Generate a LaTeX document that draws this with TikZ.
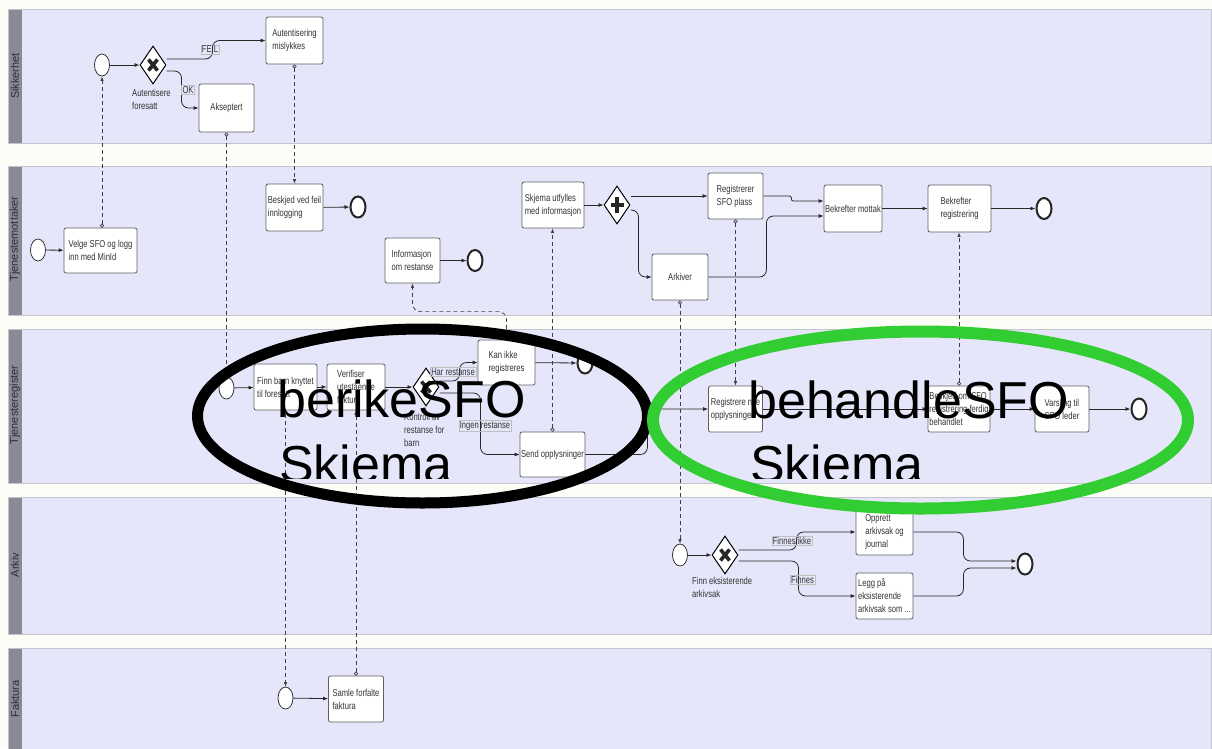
\documentclass[tikz,border=0pt]{standalone}
\usepackage{fontspec}
\setmainfont{Liberation Sans}
\newfontfamily\narrowfont[FakeStretch=0.76]{Liberation Sans}
\usetikzlibrary{shapes.geometric,arrows.meta}

\definecolor{pageBg}{RGB}{253,253,248}
\definecolor{laneFill}{RGB}{230,230,250}
\definecolor{laneLine}{RGB}{196,196,206}
\definecolor{laneBar}{RGB}{138,138,150}
\definecolor{laneText}{RGB}{45,45,55}
\definecolor{flowCol}{RGB}{40,40,40}
\definecolor{boxLine}{RGB}{95,95,100}
\definecolor{ovalGreen}{RGB}{50,205,50}

\tikzset{
  lane/.style={draw=laneLine, fill=laneFill, line width=1pt},
  lanelabel/.style={rotate=90, text=laneText, inner sep=0pt,
    font=\fontsize{11}{13}\selectfont},
  task/.style={draw=boxLine, fill=white, rounded corners=2pt, line width=0.8pt,
    align=left, text=black!80, inner sep=1pt,
    font=\narrowfont\fontsize{10}{13}\selectfont},
  gwlabel/.style={align=left, text=black!80, inner sep=0pt, anchor=north west,
    font=\narrowfont\fontsize{10}{13}\selectfont},
  elabel/.style={draw=black!25, inner sep=1pt, text=black!80,
    font=\narrowfont\fontsize{10}{12}\selectfont},
  startev/.style={ellipse, draw=black!80, fill=white, line width=0.8pt,
    minimum width=15pt, minimum height=22pt, inner sep=0pt},
  endev/.style={ellipse, draw=black!85, fill=white, line width=2pt,
    minimum width=15pt, minimum height=21pt, inner sep=0pt},
  gateway/.style={shape=diamond, draw=black, fill=white, line width=1pt,
    minimum width=26pt, minimum height=38pt, inner sep=0pt},
  xorgw/.style={gateway, path picture={
    \draw[line width=3.6pt, black!85]
      ([xshift=-4.5pt,yshift=-5.5pt]path picture bounding box.center) --
      ([xshift=4.5pt,yshift=5.5pt]path picture bounding box.center)
      ([xshift=-4.5pt,yshift=5.5pt]path picture bounding box.center) --
      ([xshift=4.5pt,yshift=-5.5pt]path picture bounding box.center);}},
  andgw/.style={gateway, path picture={
    \draw[line width=4pt, black!85]
      ([yshift=-8pt]path picture bounding box.center) --
      ([yshift=8pt]path picture bounding box.center)
      ([xshift=-6.5pt]path picture bounding box.center) --
      ([xshift=6.5pt]path picture bounding box.center);}},
  seq/.style={draw=flowCol, line width=0.8pt, rounded corners=7pt,
    -{Latex[length=5pt,width=4pt]}},
  msg/.style={draw=black!75, line width=0.7pt, dash pattern=on 4pt off 3pt,
    {Circle[open,length=4pt]}-{Latex[length=4.5pt,width=3.5pt]}},
  bigtext/.style={anchor=base west, inner sep=0pt, text=black,
    font=\fontsize{52}{60}\selectfont}
}

\begin{document}
\begin{tikzpicture}[x=1pt,y=-1pt]
\useasboundingbox (0,0) rectangle (1212,748);
\fill[pageBg] (0,0) rectangle (1212,748);

% swim lanes
\foreach \ltop/\lbot/\lname [count=\i] in
  {9/143/Sikkerhet, 166/315/Tjenestemottaker, 329/483/Tjenesteregister,
   497/634/Arkiv, 648/770/Faktura}{
  \draw[lane] (8,\ltop) rectangle (1211,\lbot);
  \fill[laneBar] (8.5,\ltop+0.5) rectangle (22,\lbot-0.5);
}
\node[lanelabel] (lane1) at (15,76) {Sikkerhet};
\node[lanelabel] (lane2) at (15,239) {Tjenestemottaker};
\node[lanelabel] (lane3) at (15,405) {Tjenesteregister};
\node[lanelabel] (lane4) at (15,565) {Arkiv};
\node[lanelabel] (lane5) at (15,699) {Faktura};

% ---- Sikkerhet
\node[startev] (s1) at (102,65) {};
\node[xorgw] (g1) at (153,65) {};
\node[gwlabel] (g1l) at (132,89) {Autentisere\\foresatt};
\node[task, minimum width=57pt, minimum height=47pt] (mislykkes) at (294.5,40.5) {Autentisering\\mislykkes};
\node[task, minimum width=55pt, minimum height=48pt] (akseptert) at (226.5,108) {Akseptert};

% ---- Tjenestemottaker
\node[startev] (s2) at (38,250) {};
\node[task, minimum width=73pt, minimum height=45pt] (velge) at (100.5,250.5) {Velge SFO og logg\\inn med MinId};
\node[task, minimum width=57pt, minimum height=47pt] (beskjed) at (294.5,207.5) {Beskjed ved feil\\innlogging};
\node[endev] (e2) at (358,207) {};
\node[task, minimum width=55pt, minimum height=45pt] (infoRest) at (412.5,260.5) {Informasjon\\om restanse};
\node[endev] (e3) at (475,260.5) {};
\node[task, minimum width=62pt, minimum height=46pt] (skjema) at (553,205) {Skjema utfylles\\med informasjon};
\node[andgw] (g2) at (617,205) {};
\node[task, minimum width=55pt, minimum height=46pt] (regSFO) at (735.5,196) {Registrerer\\SFO plass};
\node[task, minimum width=56pt, minimum height=46pt] (arkiver) at (680,277) {Arkiver};
\node[task, minimum width=58pt, minimum height=47pt] (bekMottak) at (853,208.5) {Bekrefter mottak};
\node[task, minimum width=63pt, minimum height=47pt] (bekReg) at (959.5,208.5) {Bekrefter\\registrering};
\node[endev] (e4) at (1044,208.5) {};

% ---- Tjenesteregister
\node[startev] (s3) at (226.5,388) {};
\node[task, minimum width=63pt, minimum height=46pt] (finnBarn) at (285.5,387) {Finn barn knyttet\\til foresatt};
\node[task, minimum width=58pt, minimum height=46pt] (verifiser) at (356,387) {Verifiser\\utestående\\faktura};
\node[xorgw] (g3) at (426,387) {};
\node[gwlabel] (g3l) at (404,413) {Kontroll av\\restanse for\\barn};
\node[task, minimum width=57pt, minimum height=45pt] (kanIkke) at (506.5,362.5) {Kan ikke\\registreres};
\node[endev] (e5) at (585,363) {};
\node[task, minimum width=65pt, minimum height=45pt] (sendOpp) at (552.5,454.5) {Send opplysninger};
\node[task, minimum width=54pt, minimum height=46pt] (regNye) at (735.5,409) {Registrere nye\\opplysninger};
\node[task, minimum width=62pt, minimum height=46pt] (beskjedSFO) at (959,409) {Beskjed om SFO\\registrering ferdig\\behandlet};
\node[task, minimum width=54pt, minimum height=46pt] (varsling) at (1062,409) {Varsling til\\SFO leder};
\node[endev] (e6) at (1139,409) {};

% ---- Arkiv
\node[startev] (s4) at (680,555) {};
\node[xorgw] (g4) at (725,555) {};
\node[gwlabel] (g4l) at (692,577) {Finn eksisterende\\arkivsak};
\node[task, minimum width=57pt, minimum height=46pt] (opprett) at (884.5,532) {Opprett\\arkivsak og\\journal};
\node[task, minimum width=57pt, minimum height=46pt] (legg) at (884.5,596) {Legg på\\eksisterende\\arkivsak som ...};
\node[endev] (e7) at (1025,564) {};

% ---- Faktura
\node[startev] (s5) at (285.5,698) {};
\node[task, minimum width=55pt, minimum height=46pt] (samle) at (356,699) {Samle forfalte\\faktura};

% sequence flows
\draw[seq] (s1) -- (g1);
\draw[seq] ([yshift=6pt]g1.east) -- ++(46,0) |- (mislykkes.west);
\draw[seq] ([yshift=-6pt]g1.east) -- ++(15,0) |- (akseptert.west);
\node[elabel] (feil) at (210,49.5) {FEIL};
\node[elabel] (okl) at (188,90) {OK};

\draw[seq] (s2) -- (velge);
\draw[seq] (beskjed) -- (e2);
\draw[seq] (infoRest) -- (e3);
\draw[seq] (skjema) -- (g2);
\draw[seq] ([yshift=9pt]g2.east) -- (regSFO.west);
\draw[seq] ([yshift=-5pt]g2.east) -- ++(8,0) |- (arkiver.west);
\draw[seq, rounded corners=2pt] (regSFO.east) -- ++(28,0) |- ([yshift=7.5pt]bekMottak.west);
\draw[seq] (arkiver.east) -- ++(58,0) |- ([yshift=-7.5pt]bekMottak.west);
\draw[seq] (bekMottak) -- (bekReg);
\draw[seq] (bekReg) -- (e4);

\draw[seq] (s3) -- (finnBarn);
\draw[seq] (finnBarn) -- (verifiser);
\draw[seq] (verifiser) -- (g3);
\draw[seq] ([yshift=6pt]g3.east) -- ++(20,0) |- (kanIkke.west);
\draw[seq] ([yshift=-6pt]g3.east) -- ++(41,0) |- (sendOpp.west);
\node[elabel] (harR) at (453,372) {Har restanse};
\node[elabel] (ingenR) at (485,426) {Ingen restanse};
\draw[seq] (kanIkke) -- (e5);
\draw[seq] (sendOpp.east) -- ++(62,0) |- (regNye.west);
\draw[seq] (regNye) -- (beskjedSFO);
\draw[seq] (beskjedSFO) -- (varsling);
\draw[seq] (varsling) -- (e6);

\draw[seq] (s4) -- (g4);
\draw[seq] ([yshift=5pt]g4.east) -- ++(58,0) |- (opprett.west);
\draw[seq] ([yshift=-6pt]g4.east) -- ++(60,0) |- (legg.west);
\node[elabel] (finnesIkke) at (792,541) {Finnes/ikke};
\node[elabel] (finnes) at (802.5,580) {Finnes};
\draw[seq] (opprett.east) -- ++(50,0) |- ([yshift=3pt]e7.west);
\draw[seq] (legg.east) -- ++(50,0) |- ([yshift=-4pt]e7.west);

\draw[seq] (s5) -- (samle);

% message flows
\draw[msg] (s1.south |- velge.north) -- (s1.south);
\draw[msg] (mislykkes.south) -- (mislykkes.south |- beskjed.north);
\draw[msg] (akseptert.south) -- (akseptert.south |- s3.north);
\draw[msg] (finnBarn.south) -- (finnBarn.south |- s5.north);
\draw[msg] (samle.north) -- (samle.north |- verifiser.south);
\draw[msg, rounded corners=8pt] (kanIkke.north) -- ++(0,-28) -| (infoRest.south);
\draw[msg] (sendOpp.north) -- (sendOpp.north |- skjema.south);
\draw[msg] (arkiver.south) -- (arkiver.south |- s4.north);
\draw[msg] (regSFO.south) -- (regSFO.south |- regNye.north);
\draw[msg] (beskjedSFO.north) -- (beskjedSFO.north |- bekReg.south);

% hand-drawn grouping ovals with their titles
\draw[line width=11pt, black] (422.5,416) ellipse [x radius=225pt, y radius=87pt];
\draw[line width=12pt, ovalGreen] (920.5,420) ellipse [x radius=267.5pt, y radius=88.5pt];
\begin{scope}
  \clip (0,0) rectangle (1212,478);
  \node[bigtext] (grpA1) at (277,417) {berikeSFO};
  \node[bigtext] (grpA2) at (279,482) {Skjema};
  \node[bigtext] (grpB1) at (748,418) {behandleSFO};
  \node[bigtext] (grpB2) at (750,482) {Skjema};
\end{scope}
\end{tikzpicture}
\end{document}
